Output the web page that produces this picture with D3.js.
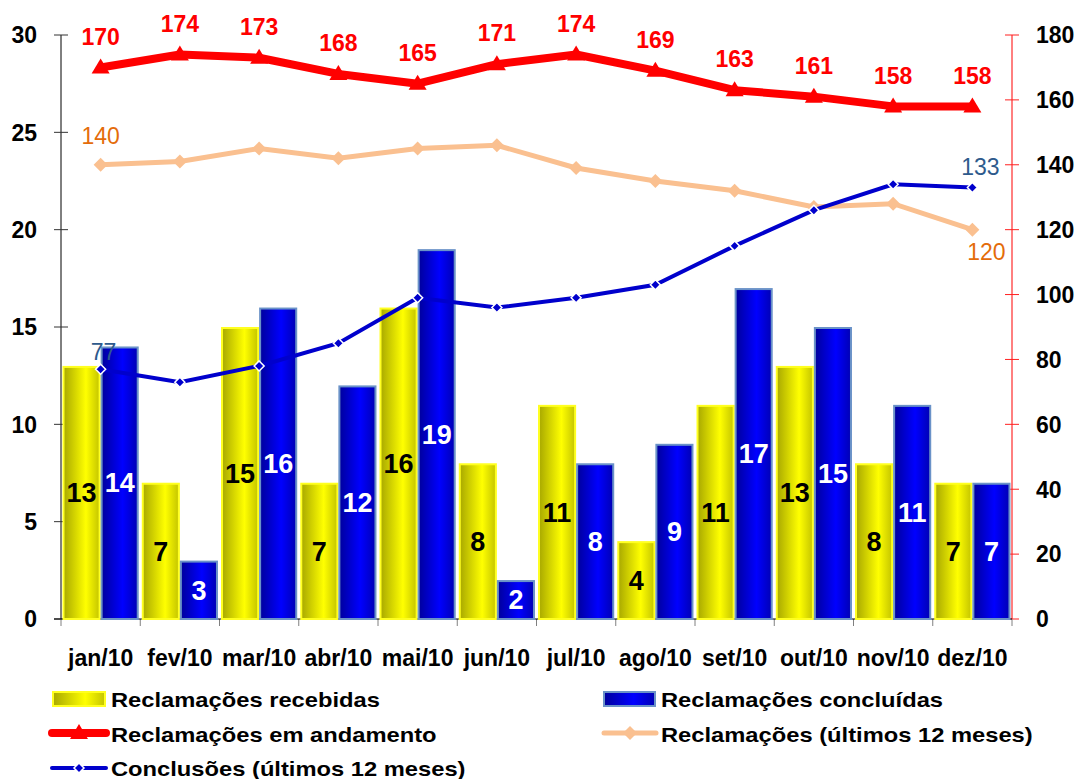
<!DOCTYPE html>
<html><head><meta charset="utf-8">
<script src="https://cdn.jsdelivr.net/npm/d3@7"></script>
<style>body{margin:0;background:#fff}svg{display:block;font-family:"Liberation Sans",Arial,sans-serif}</style>
</head><body>
<svg id="c" width="1080" height="779"></svg>
<script>
const months = ["jan/10","fev/10","mar/10","abr/10","mai/10","jun/10","jul/10","ago/10","set/10","out/10","nov/10","dez/10"];
const recebidas = [13,7,15,7,16,8,11,4,11,13,8,7];
const concluidas = [14,3,16,12,19,2,8,9,17,15,11,7];
const andamento = [170,174,173,168,165,171,174,169,163,161,158,158];
const ultimos12 = [140,141,145,142,145,146,139,135,132,127,128,120];
const conclusoes12 = [77,73,78,85,99,96,99,103,115,126,134,133];
const leftTicks = [0,5,10,15,20,25,30];
const rightTicks = [0,20,40,60,80,100,120,140,160,180];

const svg = d3.select("#c");
const L = 61, R = 1012, T = 35, B = 619;
const x = d3.scaleBand().domain(months).range([L, R]).paddingInner(0).paddingOuter(0);
const yL = d3.scaleLinear().domain([0,30]).range([B, T]);
const yR = d3.scaleLinear().domain([0,180]).range([B, T]);
const sub = d3.scaleBand().domain(["a","b"]).range([0, x.bandwidth()]).paddingOuter(0.04).paddingInner(0);

const defs = svg.append("defs");
const gy = defs.append("linearGradient").attr("id","gy");
[["0%","#a8a800"],["62%","#ffff00"],["100%","#c4c400"]].forEach(s=>gy.append("stop").attr("offset",s[0]).attr("stop-color",s[1]));
const gb = defs.append("linearGradient").attr("id","gb");
[["0%","#00009c"],["58%","#0000ff"],["100%","#0000b4"]].forEach(s=>gb.append("stop").attr("offset",s[0]).attr("stop-color",s[1]));

// left axis
const la = svg.append("g");
la.append("line").attr("x1",L).attr("x2",L).attr("y1",T).attr("y2",B).attr("stroke","#000").attr("stroke-width",1);
leftTicks.forEach(t=>{
  la.append("line").attr("x1",L-7).attr("x2",L+7).attr("y1",yL(t)).attr("y2",yL(t)).attr("stroke","#333");
  la.append("text").attr("x",37).attr("y",yL(t)).attr("dy","0.36em").attr("text-anchor","end")
    .attr("font-size",23).attr("font-weight","bold").text(t);
});
// right axis
const ra = svg.append("g");
ra.append("line").attr("x1",R).attr("x2",R).attr("y1",T).attr("y2",B).attr("stroke","#ff0000").attr("stroke-width",1);
rightTicks.forEach(t=>{
  ra.append("line").attr("x1",R-7).attr("x2",R+7).attr("y1",yR(t)).attr("y2",yR(t)).attr("stroke","#ff2020");
  ra.append("text").attr("x",1036).attr("y",yR(t)).attr("dy","0.36em").attr("text-anchor","start")
    .attr("font-size",23).attr("font-weight","bold").text(t);
});
// bottom ticks
d3.range(13).forEach(i=>{
  const xx = L + i*x.bandwidth();
  svg.append("line").attr("x1",xx).attr("x2",xx).attr("y1",B).attr("y2",B+7).attr("stroke","#808080");
});
svg.append("line").attr("x1",L-7).attr("x2",R).attr("y1",B).attr("y2",B).attr("stroke","#000");

// bars
const bars = svg.append("g");
months.forEach((m,i)=>{
  const xa = x(m)+sub("a"), xb = x(m)+sub("b"), w = sub.bandwidth();
  bars.append("rect").attr("x",xa+1).attr("y",yL(recebidas[i])+1).attr("width",w-2).attr("height",B-yL(recebidas[i])-1)
    .attr("fill","url(#gy)").attr("stroke","#ffff20").attr("stroke-width",2);
  bars.append("rect").attr("x",xb+1).attr("y",yL(concluidas[i])+1).attr("width",w-2).attr("height",B-yL(concluidas[i])-1)
    .attr("fill","url(#gb)").attr("stroke","#6a92c8").attr("stroke-width",2);
});
// bar labels
months.forEach((m,i)=>{
  const w = sub.bandwidth();
  svg.append("text").attr("x",x(m)+sub("a")+w/2).attr("y",yL(recebidas[i]/2)).attr("dy","0.36em")
    .attr("text-anchor","middle").attr("font-size",27).attr("font-weight","bold").attr("fill","#000").text(recebidas[i]);
  svg.append("text").attr("x",x(m)+sub("b")+w/2).attr("y",yL(concluidas[i]/2)).attr("dy","0.36em")
    .attr("text-anchor","middle").attr("font-size",27).attr("font-weight","bold").attr("fill","#fff").text(concluidas[i]);
});

const cx = m => x(m)+x.bandwidth()/2;
const line = d3.line().x((d,i)=>cx(months[i])).y(d=>yR(d));

// orange line
svg.append("path").attr("d",line(ultimos12)).attr("fill","none").attr("stroke","#fac090").attr("stroke-width",5);
const diamond = s => `M0,${-s}L${s},0L0,${s}L${-s},0Z`;
ultimos12.forEach((v,i)=>svg.append("path").attr("d",diamond(7)).attr("transform",`translate(${cx(months[i])},${yR(v)})`).attr("fill","#fac090"));

// red line
svg.append("path").attr("d",line(andamento)).attr("fill","none").attr("stroke","#ff0000").attr("stroke-width",8).attr("stroke-linejoin","round");
andamento.forEach((v,i)=>{
  svg.append("path").attr("d","M0,-9L9,6L-9,6Z").attr("transform",`translate(${cx(months[i])},${yR(v)})`).attr("fill","#ff0000");
  svg.append("text").attr("x",cx(months[i])).attr("y",yR(v)-31).attr("dy","0.36em").attr("text-anchor","middle")
    .attr("font-size",23).attr("font-weight","bold").attr("fill","#ff0000").text(v);
});

// blue line
svg.append("path").attr("d",line(conclusoes12)).attr("fill","none").attr("stroke","#0000cc").attr("stroke-width",4);
conclusoes12.forEach((v,i)=>svg.append("path").attr("d",diamond(5)).attr("transform",`translate(${cx(months[i])},${yR(v)})`)
  .attr("fill","#0000cc").attr("stroke","#fff").attr("stroke-width",1.5));

// end labels
svg.append("text").attr("x",cx(months[0])).attr("y",yR(ultimos12[0])-29).attr("dy","0.36em").attr("text-anchor","middle")
  .attr("font-size",23).attr("fill","#e46c0a").text(ultimos12[0]);
svg.append("text").attr("x",cx(months[11])+14).attr("y",yR(ultimos12[11])+22).attr("dy","0.36em").attr("text-anchor","middle")
  .attr("font-size",23).attr("fill","#e46c0a").text(ultimos12[11]);
svg.append("text").attr("x",cx(months[0])+3).attr("y",yR(conclusoes12[0])-17).attr("dy","0.36em").attr("text-anchor","middle")
  .attr("font-size",23).attr("fill","#2e5a8c").text(conclusoes12[0]);
svg.append("text").attr("x",cx(months[11])+8).attr("y",yR(conclusoes12[11])-21).attr("dy","0.36em").attr("text-anchor","middle")
  .attr("font-size",23).attr("fill","#2e5a8c").text(conclusoes12[11]);

// x labels
months.forEach(m=>svg.append("text").attr("x",cx(m)).attr("y",666).attr("text-anchor","middle")
  .attr("font-size",23).attr("font-weight","bold").text(m));

// legend
const lg = svg.append("g").attr("font-size",21).attr("font-weight","bold");
function legText(xx,yy,t){lg.append("text").attr("transform",`translate(${xx},${yy}) scale(1.13,1)`).attr("dy","0.36em").text(t);}
lg.append("rect").attr("x",53).attr("y",692).attr("width",52).attr("height",14).attr("fill","url(#gy)").attr("stroke","#ffff20").attr("stroke-width",2);
legText(111,699,"Reclamações recebidas");
lg.append("line").attr("x1",52).attr("x2",106).attr("y1",733).attr("y2",733).attr("stroke","#ff0000").attr("stroke-width",8).attr("stroke-linecap","round");
lg.append("path").attr("d","M0,-9L9,6L-9,6Z").attr("transform","translate(79,733)").attr("fill","#ff0000");
legText(111,734,"Reclamações em andamento");
lg.append("line").attr("x1",52).attr("x2",106).attr("y1",768).attr("y2",768).attr("stroke","#0000cc").attr("stroke-width",4).attr("stroke-linecap","round");
lg.append("path").attr("d",diamond(5)).attr("transform","translate(79,768)").attr("fill","#0000cc").attr("stroke","#fff").attr("stroke-width",1.5);
legText(111,768,"Conclusões (últimos 12 meses)");
lg.append("rect").attr("x",604).attr("y",692).attr("width",51).attr("height",14).attr("fill","url(#gb)").attr("stroke","#6a92c8").attr("stroke-width",2);
legText(661,699,"Reclamações concluídas");
lg.append("line").attr("x1",604).attr("x2",656).attr("y1",733).attr("y2",733).attr("stroke","#fac090").attr("stroke-width",5).attr("stroke-linecap","round");
lg.append("path").attr("d",diamond(7)).attr("transform","translate(630,733)").attr("fill","#fac090");
legText(661,734,"Reclamações (últimos 12 meses)");
</script>
</body></html>
